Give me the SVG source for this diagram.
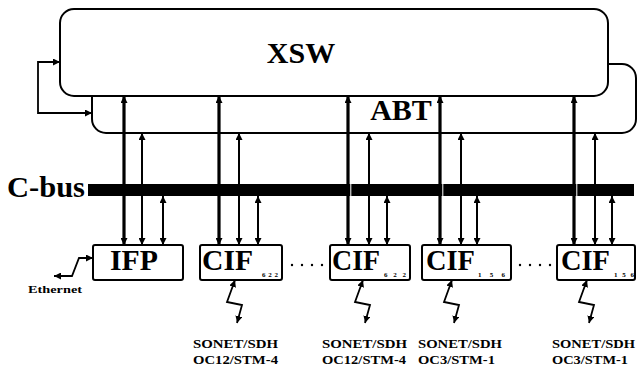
<svg xmlns="http://www.w3.org/2000/svg" width="641" height="367" viewBox="0 0 641 367">
<style>
.box{fill:#fff;stroke:#000;stroke-width:2}
text{font-family:'Liberation Serif','Times New Roman',Times,serif;font-weight:700;fill:#000}
.big{font-size:30px}
.sub{font-size:7px}
.small{font-size:12.5px}
.w3{fill:none;stroke:#000;stroke-width:3.2}
.w2{fill:none;stroke:#000;stroke-width:2}
.w1{fill:none;stroke:#000;stroke-width:1.8}
</style>
<defs>
<marker id="ah" viewBox="0 0 10 10" refX="10" refY="5" markerWidth="7" markerHeight="7" markerUnits="userSpaceOnUse" orient="auto-start-reverse">
<path d="M0,0 L10,5 L0,10 Z" fill="#000"/>
</marker>
</defs>
<rect width="641" height="367" fill="#fff"/>

<g id="abt">
<rect class="box" x="92" y="64" width="544" height="69" rx="14"/>
</g>
<g id="xsw">
<rect class="box" x="60" y="9" width="548" height="87" rx="14"/>
<text class="big" x="301" y="63" text-anchor="middle" font-family="Liberation Serif, serif">XSW</text>
</g>
<text class="big" x="401" y="120" text-anchor="middle" font-family="Liberation Serif, serif">ABT</text>

<g id="cbus">
<rect x="88" y="184" width="546" height="12" fill="#000"/>
<text class="big" x="7" y="197" textLength="78" lengthAdjust="spacingAndGlyphs">C-bus</text>
</g>

<g id="connectors">
<path class="w1" d="M92,113 H38 V62 H60" marker-start="url(#ah)" marker-end="url(#ah)"/>
<line class="w3" x1="124" y1="96" x2="124" y2="245" marker-start="url(#ah)" marker-end="url(#ah)"/>
<line class="w2" x1="142" y1="133" x2="142" y2="245" marker-start="url(#ah)" marker-end="url(#ah)"/>
<line class="w2" x1="163" y1="196" x2="163" y2="245" marker-start="url(#ah)" marker-end="url(#ah)"/>
<line class="w3" x1="219" y1="96" x2="219" y2="245" marker-start="url(#ah)" marker-end="url(#ah)"/>
<line class="w2" x1="239" y1="133" x2="239" y2="245" marker-start="url(#ah)" marker-end="url(#ah)"/>
<line class="w2" x1="258" y1="196" x2="258" y2="245" marker-start="url(#ah)" marker-end="url(#ah)"/>
<line class="w3" x1="348" y1="96" x2="348" y2="245" marker-start="url(#ah)" marker-end="url(#ah)"/>
<line class="w2" x1="369" y1="133" x2="369" y2="245" marker-start="url(#ah)" marker-end="url(#ah)"/>
<line class="w2" x1="387" y1="196" x2="387" y2="245" marker-start="url(#ah)" marker-end="url(#ah)"/>
<line class="w3" x1="440" y1="96" x2="440" y2="245" marker-start="url(#ah)" marker-end="url(#ah)"/>
<line class="w2" x1="461" y1="133" x2="461" y2="245" marker-start="url(#ah)" marker-end="url(#ah)"/>
<line class="w2" x1="477" y1="196" x2="477" y2="245" marker-start="url(#ah)" marker-end="url(#ah)"/>
<line class="w3" x1="574" y1="96" x2="574" y2="245" marker-start="url(#ah)" marker-end="url(#ah)"/>
<line class="w2" x1="595" y1="133" x2="595" y2="245" marker-start="url(#ah)" marker-end="url(#ah)"/>
<line class="w2" x1="612" y1="196" x2="612" y2="245" marker-start="url(#ah)" marker-end="url(#ah)"/>
<rect x="350.3" y="184" width="1" height="12" fill="#fff"/>
<rect x="442.3" y="184" width="1" height="12" fill="#fff"/>
<rect x="576.3" y="184" width="1" height="12" fill="#fff"/>
<path class="w1" d="M93,258 H79 L72,276 H54" marker-start="url(#ah)" marker-end="url(#ah)"/>
<path class="w1" d="M235,280 L227,302 L242,305 L237,323" marker-start="url(#ah)" marker-end="url(#ah)"/>
<path class="w1" d="M363,280 L355,302 L370,305 L365,323" marker-start="url(#ah)" marker-end="url(#ah)"/>
<path class="w1" d="M452,280 L444,302 L459,305 L454,323" marker-start="url(#ah)" marker-end="url(#ah)"/>
<path class="w1" d="M587,280 L579,302 L594,305 L589,323" marker-start="url(#ah)" marker-end="url(#ah)"/>
</g>

<g id="ifp">
<rect class="box" x="93" y="245" width="90" height="35" rx="2"/>
<text class="big" x="134" y="270" text-anchor="middle" textLength="48" lengthAdjust="spacingAndGlyphs">IFP</text>
</g>
<g id="cif622a">
<rect class="box" x="200" y="245" width="82" height="35" rx="2"/>
<text class="big" x="202" y="270" textLength="51" lengthAdjust="spacingAndGlyphs">CIF</text>
<text class="sub" x="262" y="277" textLength="16">622</text>
</g>
<g id="cif622b">
<rect class="box" x="330" y="245" width="80" height="35" rx="2"/>
<text class="big" x="332" y="270" textLength="48" lengthAdjust="spacingAndGlyphs">CIF</text>
<text class="sub" x="384" y="277" textLength="22">622</text>
</g>
<g id="cif156a">
<rect class="box" x="422" y="245" width="89" height="35" rx="2"/>
<text class="big" x="426" y="270" textLength="49" lengthAdjust="spacingAndGlyphs">CIF</text>
<text class="sub" x="478" y="277" textLength="27">156</text>
</g>
<g id="cif156b">
<rect class="box" x="557" y="245" width="78" height="35" rx="2"/>
<text class="big" x="561" y="270" textLength="49" lengthAdjust="spacingAndGlyphs">CIF</text>
<text class="sub" x="614" y="277" textLength="20">156</text>
</g>

<g id="dots" fill="#000">
<circle cx="292" cy="265" r="1.2"/><circle cx="302" cy="265" r="1.2"/><circle cx="312" cy="265" r="1.2"/><circle cx="322" cy="265" r="1.2"/>
<circle cx="520" cy="265" r="1.2"/><circle cx="530" cy="265" r="1.2"/><circle cx="540" cy="265" r="1.2"/><circle cx="550" cy="265" r="1.2"/>
</g>

<g id="labels">
<text x="28" y="293" font-size="10" textLength="54" lengthAdjust="spacingAndGlyphs">Ethernet</text>
<text class="small" x="193" y="348" textLength="85" lengthAdjust="spacingAndGlyphs">SONET/SDH</text>
<text class="small" x="193" y="364" textLength="85" lengthAdjust="spacingAndGlyphs">OC12/STM-4</text>
<text class="small" x="322" y="348" textLength="85" lengthAdjust="spacingAndGlyphs">SONET/SDH</text>
<text class="small" x="322" y="364" textLength="84" lengthAdjust="spacingAndGlyphs">OC12/STM-4</text>
<text class="small" x="418" y="348" textLength="84" lengthAdjust="spacingAndGlyphs">SONET/SDH</text>
<text class="small" x="418" y="364" textLength="77" lengthAdjust="spacingAndGlyphs">OC3/STM-1</text>
<text class="small" x="552" y="348" textLength="83" lengthAdjust="spacingAndGlyphs">SONET/SDH</text>
<text class="small" x="552" y="364" textLength="76" lengthAdjust="spacingAndGlyphs">OC3/STM-1</text>
</g>
</svg>
